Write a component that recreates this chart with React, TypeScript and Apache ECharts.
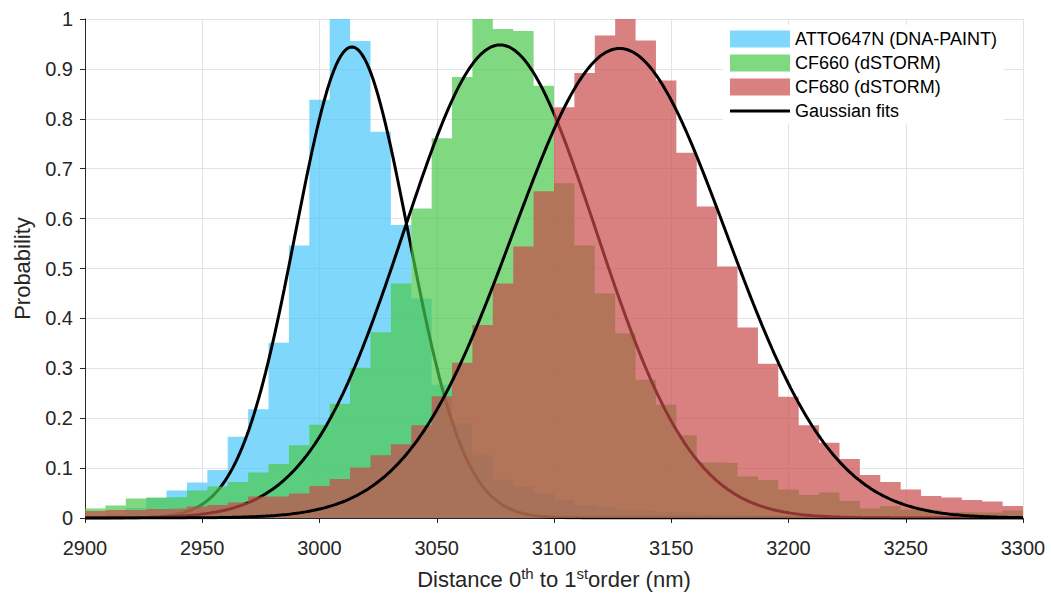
import React, { useEffect, useRef } from "react";
import * as echarts from "echarts";

// Histogram bins: 46 equal bins spanning the visible range
const BIN_START = 2900;
const BIN_END = 3300;
const BIN_COUNT = 46;

const SERIES_NAMES = ["ATTO647N (DNA-PAINT)", "CF660 (dSTORM)", "CF680 (dSTORM)"];
const FIT_NAME = "Gaussian fits";

// Normalised histogram heights (probability), one value per bin
const ATTO647N = [
  0.004, 0.008, 0.02, 0.04, 0.055, 0.071, 0.096, 0.163, 0.218, 0.351,
  0.546, 0.838, 1.0, 0.956, 0.774, 0.587, 0.44, 0.267, 0.19, 0.126,
  0.077, 0.063, 0.049, 0.036, 0.026, 0.022, 0.016, 0.015, 0.012, 0.013,
  0.008, 0.006, 0.005, 0.004, 0.004, 0.003, 0.003, 0.002, 0.002, 0.002,
  0.001, 0.001, 0.001, 0.001, 0.001, 0.001,
];
const CF660 = [
  0.019, 0.025, 0.039, 0.041, 0.042, 0.055, 0.063, 0.072, 0.091, 0.108,
  0.146, 0.187, 0.229, 0.301, 0.372, 0.47, 0.62, 0.761, 0.884, 1.0,
  0.98, 0.976, 0.866, 0.671, 0.546, 0.45, 0.37, 0.277, 0.227, 0.166,
  0.111, 0.11, 0.083, 0.076, 0.057, 0.046, 0.051, 0.034, 0.019, 0.024,
  0.017, 0.016, 0.012, 0.011, 0.011, 0.015,
];
const CF680 = [
  0.014, 0.016, 0.016, 0.018, 0.019, 0.023, 0.026, 0.031, 0.043, 0.043,
  0.049, 0.064, 0.078, 0.101, 0.126, 0.148, 0.186, 0.244, 0.311, 0.387,
  0.47, 0.544, 0.655, 0.823, 0.892, 0.967, 1.0, 0.957, 0.877, 0.732,
  0.624, 0.504, 0.382, 0.309, 0.243, 0.186, 0.151, 0.118, 0.086, 0.072,
  0.057, 0.044, 0.041, 0.036, 0.033, 0.024,
];

// Gaussian fit parameters (amplitude, centre, sigma)
const FIT_AMPLITUDE = [0.944, 0.948, 0.941];
const FIT_MEAN = [3013.8, 3077, 3128];
const FIT_SIGMA = [24, 41, 45.5];

const FACE_ALPHA = 0.7;
const BASE_COLORS = ["rgb(74,198,251)", "rgb(74,201,74)", "rgb(201,74,74)"];
const LEGEND_COLORS = [
  "rgba(74,198,251,0.7)",
  "rgba(74,201,74,0.7)",
  "rgba(201,74,74,0.7)",
];

const FONT = "'Liberation Sans', Arial, Helvetica, sans-serif";
const AXIS_COLOR = "#262626";

function stairs(values: number[]): number[][] {
  const w = (BIN_END - BIN_START) / BIN_COUNT;
  const pts = values.map((v, i) => [BIN_START + i * w, v]);
  pts.push([BIN_END, values[values.length - 1]]);
  return pts;
}

function fitCurve(i: number): number[][] {
  const pts: number[][] = [];
  const a = FIT_AMPLITUDE[i];
  const m = FIT_MEAN[i];
  const s = FIT_SIGMA[i];
  for (let x = BIN_START; x <= BIN_END; x += 1) {
    pts.push([x, a * Math.exp(-((x - m) * (x - m)) / (2 * s * s))]);
  }
  return pts;
}

export default function App() {
  const ref = useRef<HTMLDivElement>(null);

  useEffect(() => {
    if (!ref.current) return;
    const chart = echarts.init(ref.current, undefined, { renderer: "svg" });
    const hists = [ATTO647N, CF660, CF680];
    const series: any[] = [];
    hists.forEach((h, i) => {
      series.push({
        type: "line",
        name: SERIES_NAMES[i],
        data: stairs(h),
        step: "end",
        symbol: "none",
        showSymbol: false,
        silent: true,
        lineStyle: { width: 0, opacity: 0 },
        areaStyle: { color: BASE_COLORS[i], opacity: FACE_ALPHA },
        z: 2 + i * 2,
      });
      series.push({
        type: "line",
        name: FIT_NAME,
        data: fitCurve(i),
        symbol: "none",
        showSymbol: false,
        silent: true,
        lineStyle: { color: "#000", width: 3 },
        itemStyle: { color: "#000" },
        z: 3 + i * 2,
      });
    });

    const option: any = {
      animation: false,
      backgroundColor: "#fff",
      textStyle: { fontFamily: FONT },
      grid: { left: 85, right: 28, top: 19, bottom: 81, containLabel: false },
      legend: {
        orient: "vertical",
        left: 723,
        top: 25,
        padding: [5, 7, 4, 7],
        backgroundColor: "#fff",
        itemWidth: 60,
        itemHeight: 17,
        itemGap: 6,
        selectedMode: false,
        z: 20,
        textStyle: { fontSize: 18, color: "#000", fontFamily: FONT, lineHeight: 17 },
        data: [
          { name: SERIES_NAMES[0], icon: "rect", itemStyle: { color: LEGEND_COLORS[0] } },
          { name: SERIES_NAMES[1], icon: "rect", itemStyle: { color: LEGEND_COLORS[1] } },
          { name: SERIES_NAMES[2], icon: "rect", itemStyle: { color: LEGEND_COLORS[2] } },
          {
            name: FIT_NAME,
            icon: "path://M0,0M60,17M0,7L60,7L60,10L0,10Z",
            itemStyle: { color: "#000" },
          },
        ],
      },
      xAxis: {
        type: "value",
        min: BIN_START,
        max: BIN_END,
        interval: 50,
        name: "{n|Distance 0}{s|th}{n| to 1}{s|st}{n|order (nm)}",
        nameLocation: "middle",
        nameGap: 48,
        nameTextStyle: {
          fontSize: 22,
          color: AXIS_COLOR,
          fontFamily: FONT,
          rich: {
            n: { fontSize: 22, color: AXIS_COLOR, fontFamily: FONT, verticalAlign: "bottom" },
            s: {
              fontSize: 15,
              color: AXIS_COLOR,
              fontFamily: FONT,
              verticalAlign: "bottom",
              padding: [0, 0, 9, 0],
            },
          },
        },
        axisLine: { show: true, onZero: false, lineStyle: { color: AXIS_COLOR, width: 1 } },
        axisTick: { show: true, inside: false, length: 5, lineStyle: { color: AXIS_COLOR } },
        axisLabel: {
          fontSize: 20,
          color: AXIS_COLOR,
          margin: 20,
          fontFamily: FONT,
          formatter: (v: number) => String(v),
        },
        splitLine: { show: true, lineStyle: { color: "#e4e4e4", width: 1 } },
      },
      yAxis: {
        type: "value",
        min: 0,
        max: 1,
        interval: 0.1,
        name: "Probability",
        nameLocation: "middle",
        nameGap: 52,
        nameRotate: 90,
        nameTextStyle: { fontSize: 22, color: AXIS_COLOR, fontFamily: FONT },
        axisLine: { show: true, onZero: false, lineStyle: { color: AXIS_COLOR, width: 1 } },
        axisTick: { show: true, inside: false, length: 5, lineStyle: { color: AXIS_COLOR } },
        axisLabel: {
          fontSize: 20,
          color: AXIS_COLOR,
          margin: 12,
          fontFamily: FONT,
          formatter: (v: number) => String(Math.round(v * 10) / 10),
        },
        splitLine: { show: true, lineStyle: { color: "#e4e4e4", width: 1 } },
      },
      series,
    };
    chart.setOption(option);
    return () => chart.dispose();
  }, []);

  return (
    <div
      ref={ref}
      style={{ position: "fixed", left: 0, top: 0, width: 1051, height: 599, background: "#fff" }}
    />
  );
}
